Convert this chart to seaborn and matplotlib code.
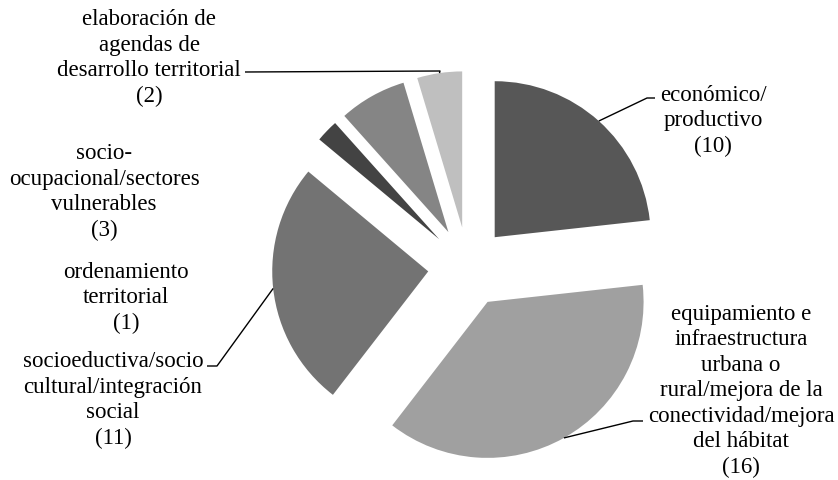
import numpy as np
import matplotlib
matplotlib.use("Agg")
import matplotlib.pyplot as plt
import seaborn as sns

# ---- data ----
categories = [
    "económico/\nproductivo",
    "equipamiento e\ninfraestructura\nurbana o\nrural/mejora de la\nconectividad/mejora\ndel hábitat",
    "socioeductiva/socio\ncultural/integración\nsocial",
    "ordenamiento\nterritorial",
    "socio-\nocupacional/sectores\nvulnerables",
    "elaboración de\nagendas de\ndesarrollo territorial",
]
values = [10, 16, 11, 1, 3, 2]
colors = ["#575757", "#a0a0a0", "#737373", "#434343", "#858585", "#bfbfbf"]

# ---- layout (pixel space) ----
W, H = 838, 481
center_px = (468, 268)
radius_px = 156
explode_px = 40
# label block centres (image px) and leader elbows (None = no leader)
label_pos = [(713, 121), (741, 391), (113, 400), (126, 298), (104, 192), (149, 58)]
elbows = [((647, 99), (655, 99)),
          ((633, 422), (643, 422)),
          ((217, 367), (207, 367)),
          None,
          None,
          ((440, 72), (245, 73))]

sns.set_theme(style="white")
plt.rcParams["font.family"] = ["Liberation Serif", "DejaVu Serif"]

fig = plt.figure(figsize=(W / 100, H / 100), dpi=100)
ax = fig.add_axes([0, 0, 1, 1])

cx, cy = center_px[0], H - center_px[1]
wedges, _ = ax.pie(values, colors=colors, startangle=90, counterclock=False,
                   radius=radius_px, center=(cx, cy),
                   explode=[explode_px] * len(values),
                   wedgeprops=dict(linewidth=0), frame=True)
ax.set_xlim(0, W)
ax.set_ylim(0, H)
ax.set_aspect("equal")
ax.axis("off")

fs = 16.5
for i, (w, cat, v) in enumerate(zip(wedges, categories, values)):
    lx, ly = label_pos[i]
    ax.text(lx, H - ly, f"{cat}\n({v})", ha="center", va="center",
            fontsize=fs, color="#000000", linespacing=1.28)
    if elbows[i] is not None:
        ang = np.deg2rad((w.theta1 + w.theta2) / 2)
        wx, wy = w.center
        px = wx + w.r * np.cos(ang)
        py = wy + w.r * np.sin(ang)
        (ex, ey), (tx, ty) = elbows[i]
        ax.plot([px, ex, tx], [py, H - ey, H - ty], color="black", lw=1.0,
                solid_capstyle="butt")

fig.savefig("out.png", dpi=100)
